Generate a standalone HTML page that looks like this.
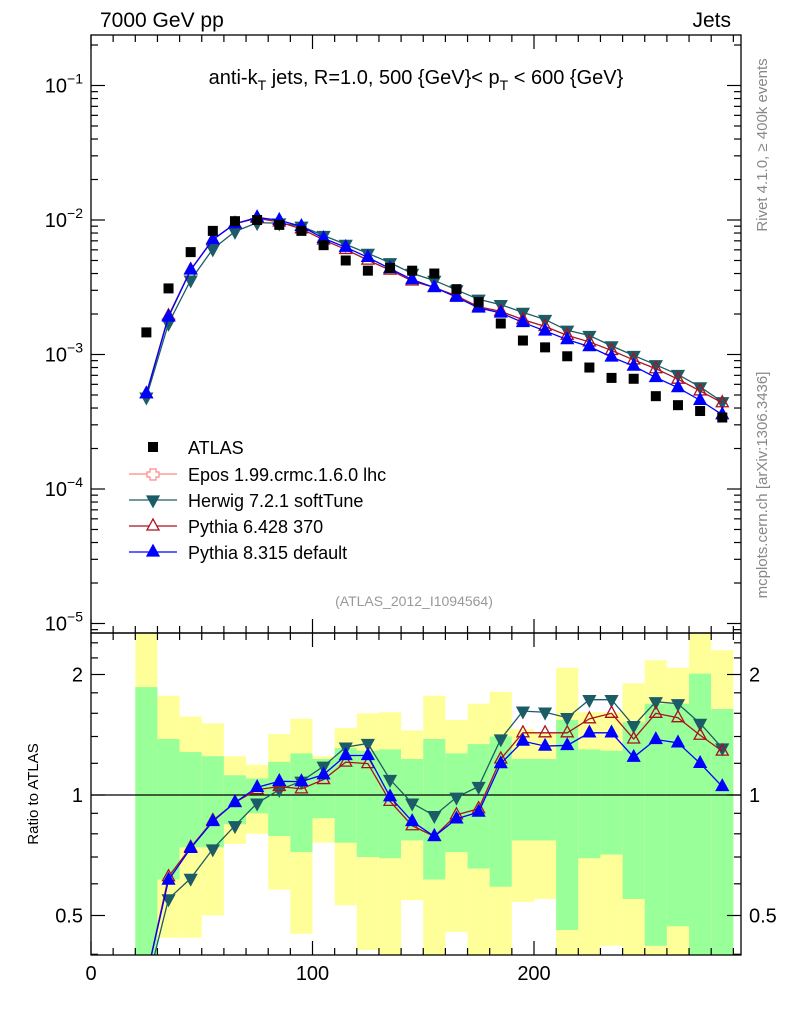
<!DOCTYPE html>
<html><head><meta charset="utf-8"><style>
body{margin:0;background:#fff;}
svg{display:block;font-family:"Liberation Sans",sans-serif;}
</style></head><body>
<svg id="c" width="786" height="1024" viewBox="0 0 786 1024" xmlns="http://www.w3.org/2000/svg"></svg>
<script>
const xs=[25,35,45,55,65,75,85,95,105,115,125,135,145,155,165,175,185,195,205,215,225,235,245,255,265,275,285];
const atlas=[1.46e-3,3.1e-3,5.77e-3,8.3e-3,9.8e-3,1.0e-2,9.2e-3,8.3e-3,6.5e-3,5.0e-3,4.2e-3,4.4e-3,4.2e-3,4.0e-3,3.06e-3,2.45e-3,1.7e-3,1.27e-3,1.13e-3,0.97e-3,0.8e-3,0.67e-3,0.66e-3,0.49e-3,0.42e-3,0.38e-3,0.34e-3];
const rPy8=[0.35,0.613,0.736,0.859,0.958,1.045,1.082,1.08,1.124,1.255,1.255,0.99,0.859,0.788,0.872,0.906,1.198,1.363,1.325,1.33,1.43,1.43,1.243,1.376,1.35,1.20,1.05];
const rPy6=[0.35,0.625,0.74,0.863,0.958,1.031,1.05,1.036,1.093,1.208,1.198,0.964,0.838,0.788,0.892,0.924,1.23,1.43,1.43,1.43,1.55,1.60,1.38,1.60,1.56,1.41,1.287];
const rHw=[0.33,0.55,0.619,0.733,0.838,0.954,1.031,1.082,1.18,1.317,1.345,1.093,0.954,0.888,0.987,1.05,1.38,1.62,1.61,1.56,1.73,1.73,1.49,1.71,1.69,1.51,1.31];
const yU=[2.6,1.77,1.57,1.51,1.25,1.19,1.42,1.55,1.25,1.47,1.60,1.61,1.45,1.77,1.54,1.69,1.81,1.46,1.43,2.08,1.61,1.61,1.90,2.17,2.08,2.6,2.30];
const gU=[1.86,1.38,1.28,1.25,1.12,1.10,1.21,1.27,1.23,1.31,1.29,1.30,1.23,1.38,1.27,1.34,1.40,1.23,1.23,1.54,1.30,1.29,1.52,1.69,1.69,2.01,1.64];
const gL=[0.35,0.615,0.74,0.74,0.845,0.90,0.79,0.72,0.875,0.76,0.70,0.695,0.77,0.615,0.72,0.655,0.59,0.77,0.77,0.46,0.695,0.71,0.55,0.42,0.47,0.35,0.35];
const yL=[0.35,0.44,0.44,0.50,0.755,0.80,0.58,0.45,0.76,0.53,0.41,0.35,0.546,0.35,0.455,0.35,0.35,0.54,0.55,0.35,0.35,0.42,0.35,0.35,0.35,0.35,0.35];
const xTicks=[0,100,200];

const NS="http://www.w3.org/2000/svg";
const svg=document.getElementById('c');
const L=91,R=741,T=35,M=633,B=955;
const X=v=>L+v*2.215;
const Ym=v=>220-(Math.log10(v)+2)*134.5;
const Yr=v=>795-Math.log2(v)*120.5;
function el(t,a,p){const e=document.createElementNS(NS,t);for(const k in a)e.setAttribute(k,a[k]);(p||svg).appendChild(e);return e;}
function txt(s,a,p){const e=el('text',a,p);e.textContent=s;return e;}

// clips
const defs=el('defs',{});
const c1=el('clipPath',{id:'cm'},defs);el('rect',{x:L,y:T,width:R-L,height:M-T},c1);
const c2=el('clipPath',{id:'cr'},defs);el('rect',{x:L,y:M,width:R-L,height:B-M},c2);

// ratio bands
const gb=el('g',{'clip-path':'url(#cr)'});


xs.forEach((x,i)=>{
 const x0=X(x-5),w=X(x+5)-x0;
 const ry=el('rect',{x:x0,y:Yr(yU[i]),width:w,height:Yr(yL[i])-Yr(yU[i]),fill:'#ffff99'},gb);
 
 
 const rg=el('rect',{x:x0,y:Yr(gU[i]),width:w,height:Yr(gL[i])-Yr(gU[i]),fill:'#99ff99'},gb);
 
 
});
el('line',{x1:L,x2:R,y1:Yr(1),y2:Yr(1),stroke:'#000','stroke-width':1.3});

// markers
function tri(g,x,y,down,fill,stroke){const s=down?-1:1;el('polygon',{points:`${x-6},${y+4*s} ${x+6},${y+4*s} ${x},${y-7*s}`,fill:fill,stroke:stroke,'stroke-width':1.3},g);}
const series=[
 {n:'herwig',r:rHw,c:'#1c5c66',down:true,fill:'#1c5c66'},
 {n:'pythia6',r:rPy6,c:'#aa1122',down:false,fill:'none'},
 {n:'pythia8',r:rPy8,c:'#0000ff',down:false,fill:'#0000ff'}];
series.forEach(s=>{
 [['cm',i=>Ym(s.r[i]*atlas[i])],['cr',i=>Yr(s.r[i])]].forEach(([cp,yf])=>{
  const g=el('g',{'clip-path':`url(#${cp})`});
  
  
  el('polyline',{points:xs.map((x,i)=>X(x)+','+yf(i)).join(' '),fill:'none',stroke:s.c,'stroke-width':1.3},g);
  xs.forEach((x,i)=>tri(g,X(x),yf(i),s.down,s.fill,s.c));
 });
});
// atlas points
const ga=el('g',{});


xs.forEach((x,i)=>{const r=el('rect',{x:X(x)-5,y:Ym(atlas[i])-5,width:10,height:10,fill:'#000'},ga);
 
 });

// frames
el('rect',{x:L,y:T,width:R-L,height:M-T,fill:'none',stroke:'#000','stroke-width':1.3});
el('rect',{x:L,y:M,width:R-L,height:B-M,fill:'none',stroke:'#000','stroke-width':1.3});

// x ticks
for(let v=0;v<=290;v+=10){const maj=v%100==0,len=maj?14:7;
 [[T,1],[M,-1],[M,1],[B,-1]].forEach(([y,d])=>el('line',{x1:X(v),x2:X(v),y1:y,y2:y+d*len,stroke:'#000','stroke-width':1.2}));}
xTicks.forEach(v=>{const t=txt(String(v),{x:X(v),y:980,'font-size':20,'text-anchor':'middle'});
 
 });
// main y ticks
for(let e=-6;e<=-1;e++)for(let m=1;m<10;m++){const v=m*Math.pow(10,e);const y=Ym(v);if(y<T||y>M)continue;const len=m==1?14:7;
 el('line',{x1:L,x2:L+len,y1:y,y2:y,stroke:'#000','stroke-width':1.2});el('line',{x1:R,x2:R-len,y1:y,y2:y,stroke:'#000','stroke-width':1.2});}
[-1,-2,-3,-4,-5].forEach(e=>{const t=el('text',{x:83,y:Ym(Math.pow(10,e))+7,'font-size':20,'text-anchor':'end'});
 
 
 t.innerHTML=`10<tspan dy="-9" font-size="14">${e==-1?'−1':'−'+(-e)}</tspan>`;});
// ratio y ticks
[0.4,0.5,0.6,0.7,0.8,0.9,1,1.2,1.4,1.6,1.8,2,2.2,2.4].forEach(v=>{const y=Yr(v);const maj=(v==0.5||v==1||v==2);const len=maj?14:7;
 el('line',{x1:L,x2:L+len,y1:y,y2:y,stroke:'#000','stroke-width':1.2});el('line',{x1:R,x2:R-len,y1:y,y2:y,stroke:'#000','stroke-width':1.2});});
[[0.5,'0.5'],[1,'1'],[2,'2']].forEach(([v,s])=>{
 const a=txt(s,{x:83,y:Yr(v)+7,'font-size':20,'text-anchor':'end'});
 
 
 const b=txt(s,{x:749,y:Yr(v)+7,'font-size':20});
 
 });

// texts
let t;
t=txt('7000 GeV pp',{x:100,y:27,'font-size':21});
t=txt('Jets',{x:731,y:27,'font-size':21,'text-anchor':'end'});
t=el('text',{x:416,y:84,'font-size':20,'text-anchor':'middle'});
t.innerHTML='anti-k<tspan dy="6" font-size="14">T</tspan><tspan dy="-6"> jets, R=1.0, 500 {GeV}&lt; p</tspan><tspan dy="6" font-size="14">T</tspan><tspan dy="-6"> &lt; 600 {GeV}</tspan>';
t=txt('(ATLAS_2012_I1094564)',{x:414,y:606,'font-size':14,fill:'#999','text-anchor':'middle'});
t=txt('Ratio to ATLAS',{x:0,y:0,'font-size':15,'text-anchor':'middle',transform:'translate(38,794) rotate(-90)'});
t=txt('Rivet 4.1.0, ≥ 400k events',{x:0,y:0,'font-size':15,fill:'#888','text-anchor':'middle',transform:'translate(767,145) rotate(-90)'});
t=txt('mcplots.cern.ch [arXiv:1306.3436]',{x:0,y:0,'font-size':15,fill:'#888','text-anchor':'middle',transform:'translate(767,485) rotate(-90)'});

// legend
const lg=el('g',{});
const leg=[['ATLAS',447],['Epos 1.99.crmc.1.6.0 lhc',474],['Herwig 7.2.1 softTune',500],['Pythia 6.428 370',526],['Pythia 8.315 default',552]];
leg.forEach(([s,y],i)=>{
 const g=el('g',{},lg);
 if(i==0){el('rect',{x:148,y:y-5,width:10,height:10,fill:'#000'},g);}
 else{const c=['','#ff8888','#1c5c66','#aa1122','#0000ff'][i];
  el('line',{x1:129,x2:177,y1:y,y2:y,stroke:c,'stroke-width':1.3},g);
  if(i==1){el('path',{d:`M${150},${y-5}h6v3h3v5h-3v3h-6v-3h-3v-5h3z`,fill:'#fff',stroke:c,'stroke-width':1.2},g);}
  else tri(g,153,y,i==2,i==3?'#fff':c,c);}
 txt(s,{x:188,y:y+7,'font-size':18},g);
});
</script>
</body></html>
